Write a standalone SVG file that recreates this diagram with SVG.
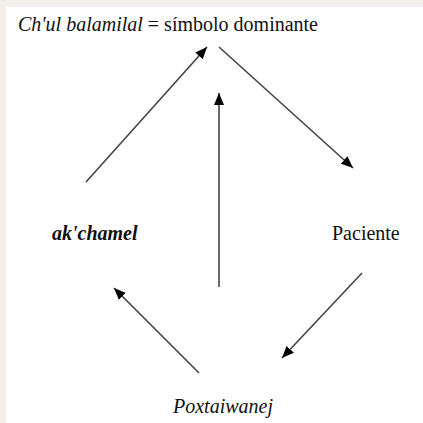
<svg xmlns="http://www.w3.org/2000/svg" width="423" height="423" viewBox="0 0 423 423">
<style>
.t{font-size:20px;fill:#111}
.it{font-style:italic}
.conn line{stroke:#444;stroke-width:1.6;marker-end:url(#ah)}
</style>
<defs>
<marker id="ah" markerUnits="userSpaceOnUse" markerWidth="12" markerHeight="10" refX="12" refY="5" orient="auto">
<path d="M0,0 L12,5 L0,10 z" fill="#000"/>
</marker>
</defs>
<rect width="423" height="423" fill="#f3f0eb"/>
<rect x="6" y="7" width="417" height="416" fill="#fff"/>
<g font-family="Liberation Serif, Times New Roman, DejaVu Serif, serif">
<g id="n-top"><text class="t" x="18" y="31"><tspan class="it">Ch'ul balamilal</tspan> = símbolo dominante</text></g>
<g id="n-left"><text class="t it" x="52" y="240" font-weight="bold">ak'chamel</text></g>
<g id="n-right"><text class="t" x="332" y="240">Paciente</text></g>
<g id="n-bottom"><text class="t it" x="173" y="413">Poxtaiwanej</text></g>
</g>
<g class="conn" id="connectors">
<line x1="86" y1="182" x2="207" y2="47"/>
<line x1="219" y1="287" x2="219" y2="93"/>
<line x1="219" y1="47" x2="353" y2="168"/>
<line x1="362" y1="273" x2="282" y2="358"/>
<line x1="199" y1="373" x2="114" y2="288"/>
</g>
</svg>
